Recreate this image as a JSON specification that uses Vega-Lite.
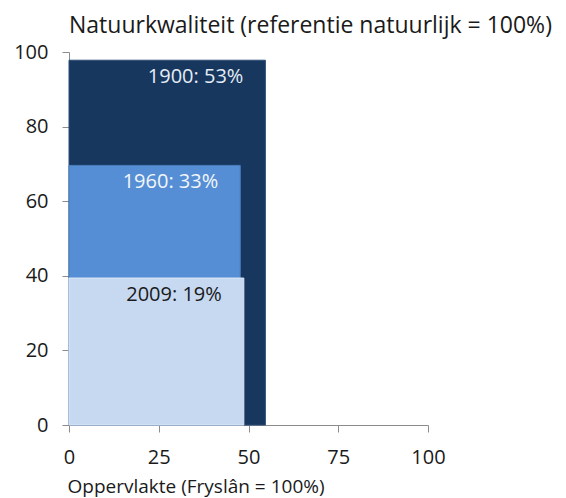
{
  "$schema": "https://vega.github.io/schema/vega-lite/v6.json",
  "width": 359,
  "height": 373,
  "autosize": "none",
  "padding": {"left": 69, "top": 52, "right": 138, "bottom": 73},
  "background": "white",
  "config": {
    "view": {"stroke": null},
    "font": "Open Sans",
    "axis": {
      "grid": false,
      "domainColor": "#8c8c8c",
      "tickColor": "#8c8c8c",
      "tickSize": 7,
      "labelFont": "Open Sans",
      "labelFontSize": 20,
      "labelColor": "#1a1a1a",
      "titleFont": "Open Sans",
      "titleFontSize": 19,
      "titleFontWeight": "normal",
      "titleColor": "#1a1a1a"
    }
  },
  "title": {
    "text": "Natuurkwaliteit (referentie natuurlijk = 100%)",
    "anchor": "start",
    "frame": "group",
    "fontSize": 23,
    "fontWeight": "normal",
    "font": "Open Sans",
    "color": "#1a1a1a",
    "offset": 4,
    "dx": 0
  },
  "data": {
    "values": [
      {"jaar": "1900", "oppervlakte": 54.7, "kwaliteit": 97.8, "label": "1900: 53%"},
      {"jaar": "1960", "oppervlakte": 47.7, "kwaliteit": 69.6, "label": "1960: 33%"},
      {"jaar": "2009", "oppervlakte": 48.7, "kwaliteit": 39.4, "label": "2009: 19%"}
    ]
  },
  "layer": [
    {
      "mark": {"type": "rect", "strokeWidth": 1},
      "encoding": {
        "x": {
          "field": "oppervlakte",
          "type": "quantitative",
          "scale": {"domain": [0, 100], "nice": false},
          "axis": {
            "values": [0, 25, 50, 75, 100],
            "title": "Oppervlakte (Fryslân = 100%)",
            "titleAnchor": "start",
            "titleAlign": "left",
            "titleBaseline": "top",
            "titleX": -2,
            "titleY": 52,
            "labelPadding": 15,
            "labelFlush": false
          }
        },
        "x2": {"datum": 0},
        "y": {
          "field": "kwaliteit",
          "type": "quantitative",
          "scale": {"domain": [0, 100], "nice": false},
          "axis": {
            "values": [0, 20, 40, 60, 80, 100],
            "title": null,
            "labelPadding": 14,
            "labelFlush": false
          }
        },
        "y2": {"datum": 0},
        "fill": {
          "field": "jaar",
          "type": "nominal",
          "scale": {"domain": ["1900", "1960", "2009"], "range": ["#17375E", "#558ED5", "#C6D9F1"]},
          "legend": null
        },
        "stroke": {
          "field": "jaar",
          "type": "nominal",
          "scale": {"domain": ["1900", "1960", "2009"], "range": ["#2c4d78", "#4a7ebb", "#dde8f6"]},
          "legend": null
        }
      }
    },
    {
      "mark": {"type": "text", "align": "right", "baseline": "top", "dx": -22, "dy": 7, "fontSize": 20, "font": "Open Sans"},
      "encoding": {
        "x": {"field": "oppervlakte", "type": "quantitative"},
        "y": {"field": "kwaliteit", "type": "quantitative"},
        "text": {"field": "label"},
        "color": {
          "field": "jaar",
          "type": "nominal",
          "scale": {"domain": ["1900", "1960", "2009"], "range": ["#e4ecf6", "#f2f6fb", "#1a1a1a"]},
          "legend": null
        }
      }
    }
  ]
}
